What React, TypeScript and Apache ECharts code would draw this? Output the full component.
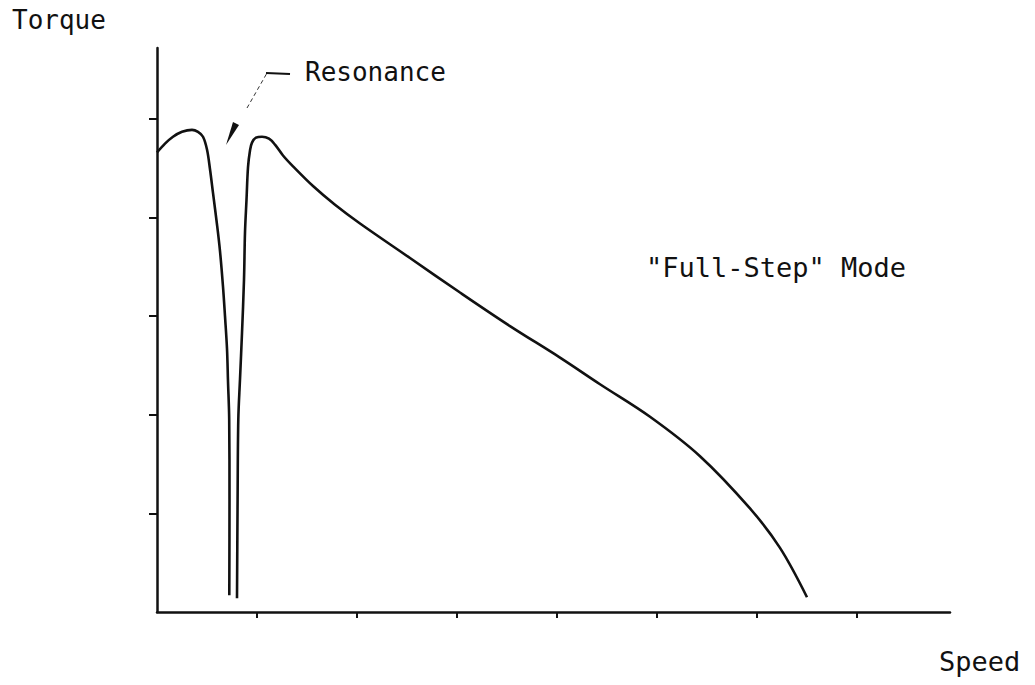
import React, { useEffect, useRef } from "react";
import * as echarts from "echarts";

// Torque vs speed curve ("Full-Step" mode)
// left of the resonance dip
const speedA = [0, 0.08, 0.16, 0.25, 0.35, 0.41, 0.46, 0.5, 0.53, 0.56, 0.6, 0.63, 0.66, 0.68, 0.7, 0.71, 0.722, 0.725, 0.723];
const torqueA = [4.66, 4.75, 4.82, 4.87, 4.89, 4.87, 4.82, 4.69, 4.49, 4.25, 3.93, 3.66, 3.3, 3.0, 2.67, 2.34, 1.95, 1.14, 0.17];
// right of the resonance dip
const speedB = [0.8, 0.806, 0.813, 0.83, 0.85, 0.87, 0.88, 0.895, 0.91, 0.93, 0.95, 0.99, 1.05, 1.12, 1.18, 1.26, 1.36, 1.56, 1.78, 2.03, 2.53, 3.03, 3.53, 4.03, 4.43, 4.93, 5.43, 5.93, 6.23, 6.5];
const torqueB = [0.14, 1.14, 1.95, 2.36, 2.83, 3.37, 3.85, 4.18, 4.51, 4.68, 4.76, 4.81, 4.82, 4.8, 4.74, 4.63, 4.52, 4.32, 4.13, 3.94, 3.59, 3.24, 2.9, 2.58, 2.31, 1.98, 1.58, 1.05, 0.65, 0.15];

const xTicks = [1, 2, 3, 4, 5, 6, 7];
const yTicks = [1, 2, 3, 4, 5];

const FONT = "'DejaVu Sans Mono', monospace";

export default function App() {
  const ref = useRef<HTMLDivElement>(null);
  useEffect(() => {
    if (!ref.current) return;
    const chart = echarts.init(ref.current, null, { renderer: "svg" });
    const dataA = speedA.map((s, i) => [s, torqueA[i]]);
    const dataB = speedB.map((s, i) => [s, torqueB[i]]);

    const axisLine = { show: true, onZero: false, lineStyle: { color: "#111", width: 2.5 } };
    const lineStyle = { color: "#111", width: 2.6 };
    chart.setOption({
      animation: false,
      backgroundColor: "#fff",
      grid: { left: 157, right: 85, top: 48, bottom: 73 },
      xAxis: {
        type: "value",
        min: 0,
        max: 7.93,
        axisLine,
        axisTick: { show: true, length: 6, customValues: xTicks, lineStyle: { color: "#111", width: 2 } },
        axisLabel: { show: false },
        splitLine: { show: false },
      },
      yAxis: {
        type: "value",
        min: 0,
        max: 5.72,
        axisLine,
        axisTick: { show: true, length: 8, customValues: yTicks, lineStyle: { color: "#111", width: 2 } },
        axisLabel: { show: false },
        splitLine: { show: false },
      },
      series: [
        { type: "line", data: dataA, showSymbol: false, smooth: 0.35, lineStyle },
        { type: "line", data: dataB, showSymbol: false, smooth: 0.35, lineStyle },
      ],
      graphic: [
        { type: "text", left: 12, top: 7, style: { text: "Torque", font: `26px ${FONT}`, fill: "#111" } },
        { type: "text", left: 939, top: 648, style: { text: "Speed", font: `27px ${FONT}`, fill: "#111" } },
        { type: "text", left: 646, top: 254, style: { text: '"Full-Step" Mode', font: `27px ${FONT}`, fill: "#111" } },
        { type: "text", left: 305, top: 59, style: { text: "Resonance", font: `26px ${FONT}`, fill: "#111" } },
        { type: "line", shape: { x1: 247, y1: 108, x2: 267, y2: 73 }, style: { stroke: "#333", lineWidth: 1, lineDash: [4, 3] } },
        { type: "line", shape: { x1: 266, y1: 73, x2: 290, y2: 74 }, style: { stroke: "#111", lineWidth: 2.2 } },
        { type: "polygon", shape: { points: [[226, 145], [233, 122], [239, 125]] }, style: { fill: "#111" } },
      ],
    });
    return () => chart.dispose();
  }, []);
  return <div ref={ref} style={{ position: "fixed", left: 0, top: 0, width: 1035, height: 685 }} />;
}
